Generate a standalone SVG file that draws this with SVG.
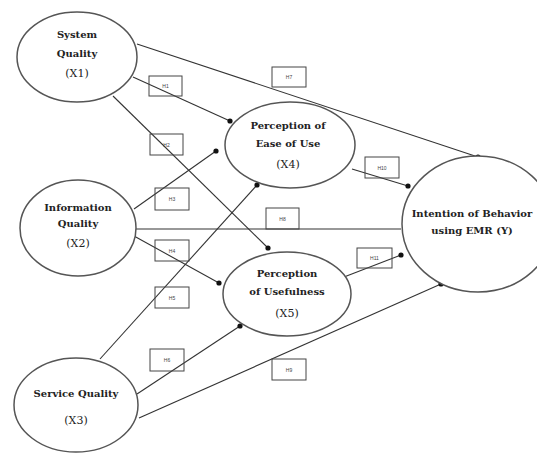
<svg xmlns="http://www.w3.org/2000/svg" width="537" height="454" viewBox="0 0 537 454">
<style>
.n{fill:#fff;stroke:#555;stroke-width:1.5}
.t{font-family:"DejaVu Serif","Liberation Serif",serif;font-size:10px;font-weight:bold;fill:#222;text-anchor:middle;dominant-baseline:central}
.c{font-family:"DejaVu Serif","Liberation Serif",serif;font-size:11px;fill:#222;text-anchor:middle;dominant-baseline:central}
.e{stroke:#333;stroke-width:1.1;fill:none}
.b{fill:none;stroke:#444;stroke-width:1}
.l{font-family:"Liberation Sans",sans-serif;font-size:5px;fill:#444;text-anchor:middle;dominant-baseline:central}
</style>
<defs>
<marker id="dot" markerWidth="6" markerHeight="6" refX="3" refY="3" markerUnits="userSpaceOnUse"><circle cx="3" cy="3" r="2.6" fill="#111"/></marker>
</defs>
<rect width="537" height="454" fill="#fff"/>
<g id="connectors">
<line class="e" x1="137" y1="44" x2="478" y2="157" marker-end="url(#dot)"/>
<line class="e" x1="133" y1="77" x2="230" y2="121" marker-end="url(#dot)"/>
<line class="e" x1="113" y1="96" x2="268" y2="248" marker-end="url(#dot)"/>
<line class="e" x1="134" y1="209" x2="216" y2="151" marker-end="url(#dot)"/>
<line class="e" x1="134" y1="236" x2="219" y2="283" marker-end="url(#dot)"/>
<line class="e" x1="136" y1="229" x2="401" y2="229"/>
<line class="e" x1="100" y1="359" x2="257" y2="185" marker-end="url(#dot)"/>
<line class="e" x1="137" y1="394" x2="240" y2="326" marker-end="url(#dot)"/>
<line class="e" x1="139" y1="418" x2="441" y2="284" marker-end="url(#dot)"/>
<line class="e" x1="352" y1="169" x2="408" y2="186" marker-end="url(#dot)"/>
<line class="e" x1="344" y1="277" x2="401" y2="255" marker-end="url(#dot)"/>
</g>
<g id="labels">
<rect class="b" x="149" y="76" width="33" height="20"/><text class="l" x="165.5" y="86">H1</text>
<rect class="b" x="150" y="134" width="33" height="21"/><text class="l" x="166.5" y="144.5">H2</text>
<rect class="b" x="155" y="188" width="34" height="22"/><text class="l" x="172" y="199">H3</text>
<rect class="b" x="155" y="240" width="34" height="21"/><text class="l" x="172" y="250.5">H4</text>
<rect class="b" x="155" y="287" width="34" height="21"/><text class="l" x="172" y="297.5">H5</text>
<rect class="b" x="150" y="349" width="34" height="22"/><text class="l" x="167" y="360">H6</text>
<rect class="b" x="272" y="67" width="34" height="20"/><text class="l" x="289" y="77">H7</text>
<rect class="b" x="266" y="208" width="33" height="21"/><text class="l" x="282.5" y="218.5">H8</text>
<rect class="b" x="272" y="359" width="34" height="21"/><text class="l" x="289" y="369.5">H9</text>
<rect class="b" x="365" y="157" width="34" height="21"/><text class="l" x="382" y="167.5">H10</text>
<rect class="b" x="357" y="248" width="35" height="20"/><text class="l" x="374.5" y="258">H11</text>
</g>
<g id="x1"><ellipse class="n" cx="77" cy="57" rx="60" ry="45"/><text class="t" x="77" y="34">System</text><text class="t" x="77" y="53">Quality</text><text class="c" x="77" y="73">(X1)</text></g>
<g id="x2"><ellipse class="n" cx="78" cy="228" rx="58" ry="48"/><text class="t" x="78" y="207">Information</text><text class="t" x="78" y="223">Quality</text><text class="c" x="78" y="243">(X2)</text></g>
<g id="x3"><ellipse class="n" cx="76" cy="405" rx="62" ry="47"/><text class="t" x="76" y="393">Service Quality</text><text class="c" x="76" y="420">(X3)</text></g>
<g id="x4"><ellipse class="n" cx="290" cy="145" rx="65" ry="43"/><text class="t" x="288" y="125">Perception of</text><text class="t" x="288" y="143">Ease of Use</text><text class="c" x="288" y="164">(X4)</text></g>
<g id="x5"><ellipse class="n" cx="287" cy="294" rx="64" ry="42"/><text class="t" x="287" y="273">Perception</text><text class="t" x="287" y="291">of Usefulness</text><text class="c" x="287" y="313">(X5)</text></g>
<g id="y"><ellipse class="n" cx="478" cy="224" rx="76" ry="68"/><text class="t" x="472" y="213">Intention of Behavior</text><text class="t" x="472" y="230">using EMR (Y)</text></g>
</svg>
